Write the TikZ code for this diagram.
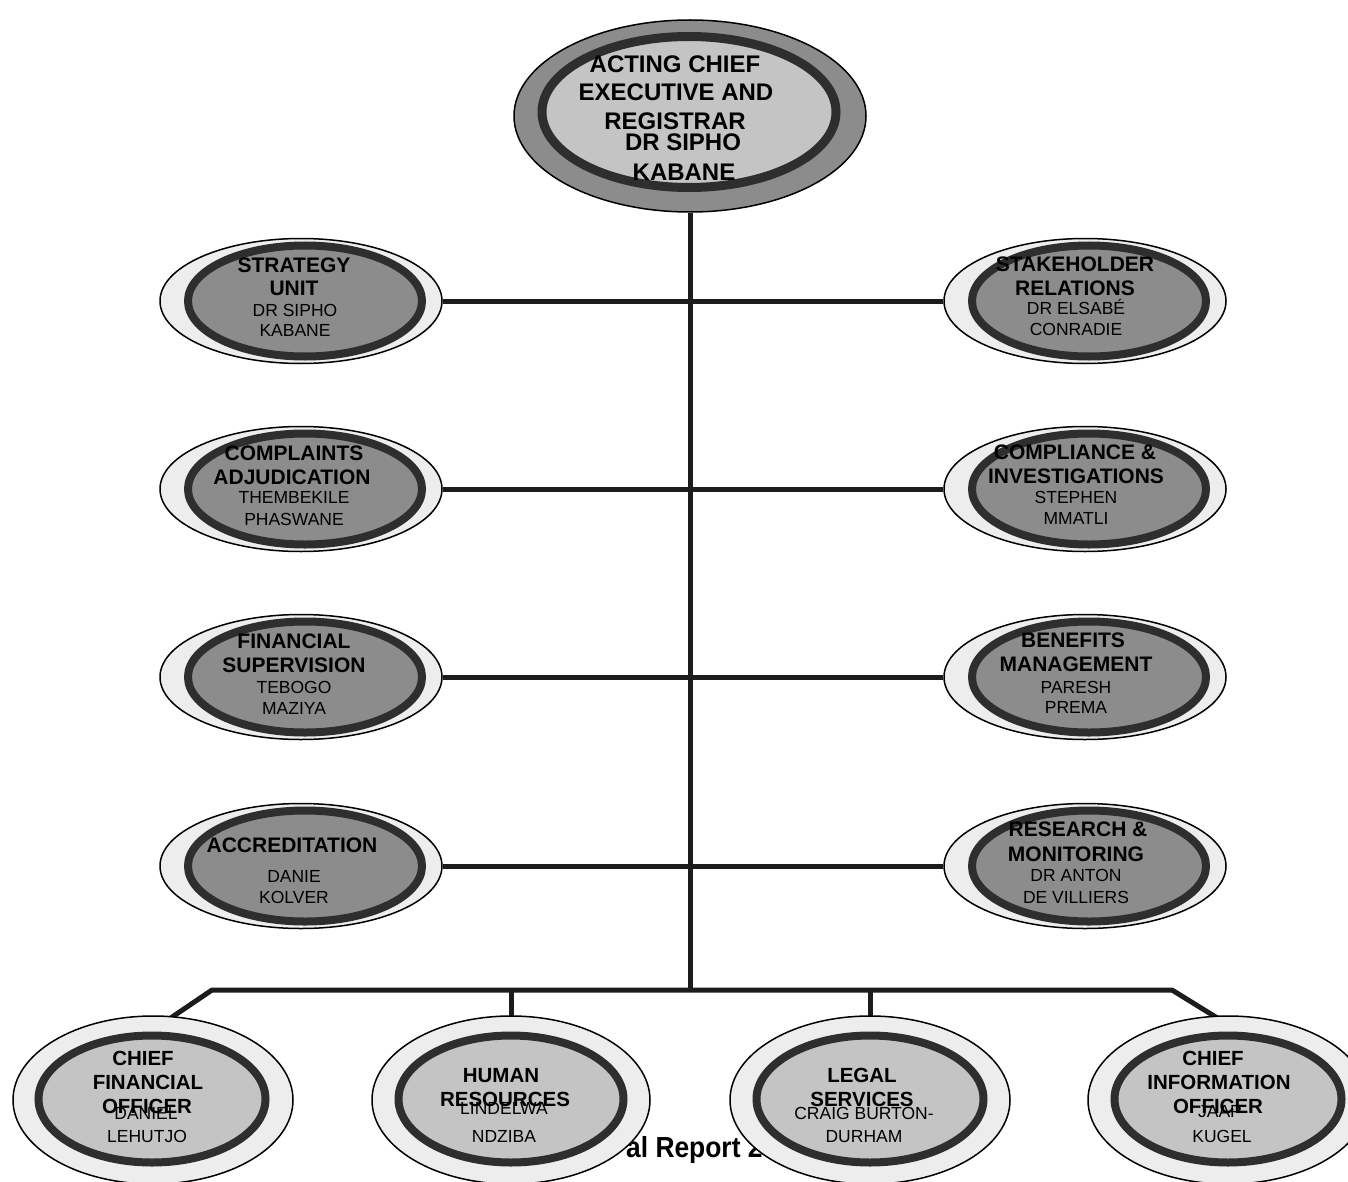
\documentclass[tikz,border=0pt]{standalone}
\usepackage{fontspec}
\setmainfont{Liberation Sans}
\usetikzlibrary{shapes.geometric}
\pgfdeclarelayer{bg}
\pgfsetlayers{bg,main}
\definecolor{ringc}{HTML}{2E2E2E}
\definecolor{sidefill}{HTML}{8C8C8C}
\definecolor{lightfill}{HTML}{C4C4C4}
\definecolor{bandc}{HTML}{EDEDED}
\definecolor{topband}{HTML}{8C8C8C}
\definecolor{linec}{HTML}{1C1C1C}
\begin{document}
\begin{tikzpicture}[x=1pt,y=-1pt,
  outerbox/.style={ellipse, draw=black, line width=1.5pt, fill=bandc, inner sep=0pt},
  innerbox/.style={ellipse, draw=ringc, line width=8pt, fill=sidefill, inner sep=0pt},
  sideout/.style={outerbox, minimum width=282pt, minimum height=125pt},
  sidein/.style={innerbox, minimum width=234pt, minimum height=111pt},
  botout/.style={outerbox, minimum width=280pt, minimum height=168pt},
  botin/.style={innerbox, fill=lightfill, minimum width=227pt, minimum height=127pt},
  txt/.style={inner sep=0pt, text depth=0pt, anchor=center, text=black},
  ttl/.style={txt, text height=15.0pt, font=\fontsize{21}{21}\selectfont\bfseries},
  nam/.style={txt, text height=12.5pt, font=\fontsize{17.5}{17.5}\selectfont},
  topttl/.style={txt, text height=17.2pt, font=\fontsize{24}{24}\selectfont\bfseries},
  botttl/.style={txt, text height=14.7pt, font=\fontsize{20.5}{20.5}\selectfont\bfseries},
  conn/.style={draw=linec, line width=5pt}
]
\begin{pgfonlayer}{bg}
\fill[white] (0,0) rectangle (1348,1182);
\end{pgfonlayer}
\useasboundingbox (0,0) rectangle (1348,1182);

% footer text (partly hidden by the ellipses)
\node[inner sep=0pt, anchor=base west, xscale=0.91, font=\fontsize{29}{29}\selectfont\bfseries] (footer) at (626,1157) {al Report 2};

% junction coordinates
\coordinate (trunkbot) at (690,990);
\coordinate (busL) at (212,990);
\coordinate (busR) at (1172,990);
\coordinate (busHR) at (511,990);
\coordinate (busLG) at (870,990);
\coordinate (cfoend) at (150,1032);
\coordinate (cioend) at (1240,1032);
\coordinate (hrend) at (511,1035);
\coordinate (lgend) at (870,1035);

% top node
\node[outerbox, fill=topband, minimum width=352pt, minimum height=192pt] (top) at (690,116) {};
\node[innerbox, fill=lightfill, line width=9pt, minimum width=294pt, minimum height=151pt] (topin) at (689,112) {};

% side nodes
\foreach \n/\x/\y in {strat/301/301, compl/301/489, fin/301/677, accr/301/866, stake/1085/301, comp/1085/489, ben/1085/677, res/1085/866}{
  \node[sideout] (\n) at (\x,\y) {};
  \node[sidein] (\n in) at (\x+4,\y) {};
}

% bottom nodes
\node[botout] (cfo) at (153,1100) {};
\node[botin] (cfoin) at (152,1099) {};
\node[botout, minimum width=278pt] (hr) at (511,1100) {};
\node[botin, minimum width=225pt] (hrin) at (511,1099) {};
\node[botout] (legal) at (870,1100) {};
\node[botin] (legalin) at (870,1099) {};
\node[botout] (cio) at (1228,1100) {};
\node[botin] (cioin) at (1228,1099) {};

% connectors behind the nodes
\begin{pgfonlayer}{bg}
\draw[conn] (top.south) -- (trunkbot);
\draw[conn] (strat.east) -- (stake.west);
\draw[conn] (compl.east) -- (comp.west);
\draw[conn] (fin.east) -- (ben.west);
\draw[conn] (accr.east) -- (res.west);
\draw[conn, line join=miter] (cfoend) -- (busL) -- (busR) -- (cioend);
\draw[conn] (busHR) -- (hrend);
\draw[conn] (busLG) -- (lgend);
\end{pgfonlayer}

% top text
\node[topttl] (t1) at (675,64) {ACTING CHIEF};
\node[topttl] (t2) at (676,92) {EXECUTIVE AND};
\node[topttl] (t3) at (675,121) {REGISTRAR};
\node[topttl] (t4) at (683,142) {DR SIPHO};
\node[topttl] (t5) at (684,172) {KABANE};

% left side texts
\node[ttl] (a1) at (294,265) {STRATEGY};
\node[ttl] (a2) at (294,288) {UNIT};
\node[nam] (a3) at (295,310) {DR SIPHO};
\node[nam] (a4) at (295,330) {KABANE};

\node[ttl] (b1) at (294,453) {COMPLAINTS};
\node[ttl] (b2) at (292,477) {ADJUDICATION};
\node[nam] (b3) at (294,497) {THEMBEKILE};
\node[nam] (b4) at (294,519) {PHASWANE};

\node[ttl] (c1) at (294,641) {FINANCIAL};
\node[ttl] (c2) at (294,665) {SUPERVISION};
\node[nam] (c3) at (294,687) {TEBOGO};
\node[nam] (c4) at (294,708) {MAZIYA};

\node[ttl] (d1) at (292,845) {ACCREDITATION};
\node[nam] (d3) at (294,876) {DANIE};
\node[nam] (d4) at (294,897) {KOLVER};

% right side texts
\node[ttl] (e1) at (1075,264) {STAKEHOLDER};
\node[ttl] (e2) at (1075,288) {RELATIONS};
\node[nam] (e3) at (1076,308) {DR ELSABÉ};
\node[nam] (e4) at (1076,329) {CONRADIE};

\node[ttl] (f1) at (1075,452) {COMPLIANCE \&};
\node[ttl] (f2) at (1076,476) {INVESTIGATIONS};
\node[nam] (f3) at (1076,497) {STEPHEN};
\node[nam] (f4) at (1076,518) {MMATLI};

\node[ttl] (g1) at (1073,640) {BENEFITS};
\node[ttl] (g2) at (1076,664) {MANAGEMENT};
\node[nam] (g3) at (1076,687) {PARESH};
\node[nam] (g4) at (1076,707) {PREMA};

\node[ttl] (h1) at (1078,829) {RESEARCH \&};
\node[ttl] (h2) at (1076,854) {MONITORING};
\node[nam] (h3) at (1076,875) {DR ANTON};
\node[nam] (h4) at (1076,897) {DE VILLIERS};

% bottom texts (overlaps as in the source)
\node[botttl] (p1) at (143,1058) {CHIEF};
\node[botttl] (p2) at (148,1082) {FINANCIAL};
\node[nam] (p4) at (146,1113) {DANIEL};
\node[botttl] (p3) at (147,1106) {OFFICER};
\node[nam] (p5) at (147,1136) {LEHUTJO};

\node[botttl] (q1) at (501,1075) {HUMAN};
\node[nam] (q3) at (504,1108) {LINDELWA};
\node[botttl] (q2) at (505,1099) {RESOURCES};
\node[nam] (q4) at (504,1136) {NDZIBA};

\node[botttl] (r1) at (862,1075) {LEGAL};
\node[botttl] (r2) at (862,1099) {SERVICES};
\node[nam] (r3) at (864,1113) {CRAIG BURTON-};
\node[nam] (r4) at (864,1136) {DURHAM};

\node[botttl] (u1) at (1213,1058) {CHIEF};
\node[botttl] (u2) at (1219,1082) {INFORMATION};
\node[nam] (u4) at (1220,1111) {JAAP};
\node[botttl] (u3) at (1218,1106) {OFFICER};
\node[nam] (u5) at (1222,1136) {KUGEL};
\end{tikzpicture}
\end{document}
